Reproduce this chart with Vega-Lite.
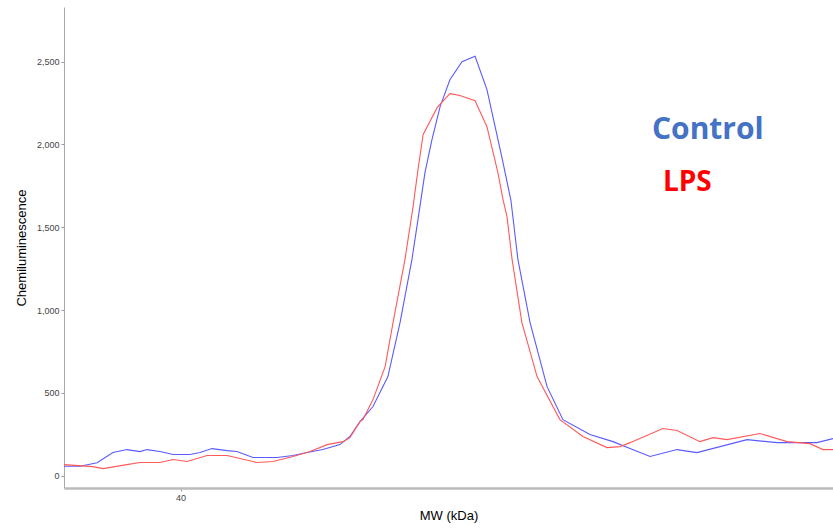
{
  "$schema": "https://vega.github.io/schema/vega-lite/v6.json",
  "autosize": {"type": "none"},
  "padding": {"left": 64, "top": 7, "right": 0, "bottom": 40},
  "width": 769,
  "height": 481,
  "background": "white",
  "config": {"view": {"stroke": null}, "font": "Liberation Sans"},
  "datasets": {
    "curves": [
      {"mw": 35.00, "value": 56, "series": "Control"},
      {"mw": 35.69, "value": 56, "series": "Control"},
      {"mw": 36.42, "value": 78, "series": "Control"},
      {"mw": 37.10, "value": 139, "series": "Control"},
      {"mw": 37.70, "value": 157, "series": "Control"},
      {"mw": 38.26, "value": 145, "series": "Control"},
      {"mw": 38.56, "value": 157, "series": "Control"},
      {"mw": 39.12, "value": 145, "series": "Control"},
      {"mw": 39.68, "value": 127, "series": "Control"},
      {"mw": 40.41, "value": 127, "series": "Control"},
      {"mw": 40.84, "value": 139, "series": "Control"},
      {"mw": 41.35, "value": 163, "series": "Control"},
      {"mw": 42.00, "value": 151, "series": "Control"},
      {"mw": 42.42, "value": 145, "series": "Control"},
      {"mw": 43.11, "value": 109, "series": "Control"},
      {"mw": 44.14, "value": 109, "series": "Control"},
      {"mw": 44.83, "value": 121, "series": "Control"},
      {"mw": 45.43, "value": 139, "series": "Control"},
      {"mw": 46.11, "value": 157, "series": "Control"},
      {"mw": 46.84, "value": 187, "series": "Control"},
      {"mw": 47.27, "value": 236, "series": "Control"},
      {"mw": 47.70, "value": 326, "series": "Control"},
      {"mw": 48.26, "value": 417, "series": "Control"},
      {"mw": 48.90, "value": 598, "series": "Control"},
      {"mw": 49.42, "value": 924, "series": "Control"},
      {"mw": 49.93, "value": 1304, "series": "Control"},
      {"mw": 50.19, "value": 1546, "series": "Control"},
      {"mw": 50.49, "value": 1830, "series": "Control"},
      {"mw": 50.79, "value": 2029, "series": "Control"},
      {"mw": 51.14, "value": 2228, "series": "Control"},
      {"mw": 51.56, "value": 2391, "series": "Control"},
      {"mw": 52.08, "value": 2500, "series": "Control"},
      {"mw": 52.64, "value": 2532, "series": "Control"},
      {"mw": 53.15, "value": 2331, "series": "Control"},
      {"mw": 53.50, "value": 2107, "series": "Control"},
      {"mw": 53.84, "value": 1890, "series": "Control"},
      {"mw": 54.18, "value": 1661, "series": "Control"},
      {"mw": 54.48, "value": 1304, "series": "Control"},
      {"mw": 55.00, "value": 924, "series": "Control"},
      {"mw": 55.73, "value": 537, "series": "Control"},
      {"mw": 56.41, "value": 338, "series": "Control"},
      {"mw": 57.57, "value": 248, "series": "Control"},
      {"mw": 58.56, "value": 205, "series": "Control"},
      {"mw": 59.29, "value": 163, "series": "Control"},
      {"mw": 60.15, "value": 115, "series": "Control"},
      {"mw": 61.31, "value": 157, "series": "Control"},
      {"mw": 62.16, "value": 139, "series": "Control"},
      {"mw": 64.31, "value": 217, "series": "Control"},
      {"mw": 65.60, "value": 199, "series": "Control"},
      {"mw": 67.31, "value": 199, "series": "Control"},
      {"mw": 68.00, "value": 223, "series": "Control"},
      {"mw": 35.00, "value": 66, "series": "LPS"},
      {"mw": 36.24, "value": 54, "series": "LPS"},
      {"mw": 36.67, "value": 42, "series": "LPS"},
      {"mw": 37.70, "value": 66, "series": "LPS"},
      {"mw": 38.26, "value": 79, "series": "LPS"},
      {"mw": 39.12, "value": 79, "series": "LPS"},
      {"mw": 39.68, "value": 97, "series": "LPS"},
      {"mw": 40.28, "value": 85, "series": "LPS"},
      {"mw": 41.14, "value": 121, "series": "LPS"},
      {"mw": 42.00, "value": 121, "series": "LPS"},
      {"mw": 42.55, "value": 103, "series": "LPS"},
      {"mw": 43.28, "value": 79, "series": "LPS"},
      {"mw": 43.97, "value": 85, "series": "LPS"},
      {"mw": 44.83, "value": 115, "series": "LPS"},
      {"mw": 45.56, "value": 145, "series": "LPS"},
      {"mw": 46.29, "value": 187, "series": "LPS"},
      {"mw": 46.97, "value": 205, "series": "LPS"},
      {"mw": 47.27, "value": 229, "series": "LPS"},
      {"mw": 47.70, "value": 326, "series": "LPS"},
      {"mw": 47.83, "value": 338, "series": "LPS"},
      {"mw": 48.26, "value": 459, "series": "LPS"},
      {"mw": 48.78, "value": 658, "series": "LPS"},
      {"mw": 49.12, "value": 924, "series": "LPS"},
      {"mw": 49.63, "value": 1304, "series": "LPS"},
      {"mw": 49.98, "value": 1624, "series": "LPS"},
      {"mw": 50.19, "value": 1848, "series": "LPS"},
      {"mw": 50.41, "value": 2059, "series": "LPS"},
      {"mw": 51.01, "value": 2222, "series": "LPS"},
      {"mw": 51.56, "value": 2307, "series": "LPS"},
      {"mw": 51.99, "value": 2295, "series": "LPS"},
      {"mw": 52.64, "value": 2264, "series": "LPS"},
      {"mw": 53.15, "value": 2107, "series": "LPS"},
      {"mw": 53.62, "value": 1830, "series": "LPS"},
      {"mw": 53.84, "value": 1667, "series": "LPS"},
      {"mw": 54.01, "value": 1564, "series": "LPS"},
      {"mw": 54.23, "value": 1304, "series": "LPS"},
      {"mw": 54.65, "value": 924, "series": "LPS"},
      {"mw": 55.30, "value": 598, "series": "LPS"},
      {"mw": 56.28, "value": 338, "series": "LPS"},
      {"mw": 57.27, "value": 236, "series": "LPS"},
      {"mw": 58.30, "value": 169, "series": "LPS"},
      {"mw": 58.86, "value": 175, "series": "LPS"},
      {"mw": 59.29, "value": 199, "series": "LPS"},
      {"mw": 60.70, "value": 284, "series": "LPS"},
      {"mw": 61.31, "value": 272, "series": "LPS"},
      {"mw": 62.29, "value": 205, "series": "LPS"},
      {"mw": 62.85, "value": 229, "series": "LPS"},
      {"mw": 63.45, "value": 217, "series": "LPS"},
      {"mw": 64.87, "value": 254, "series": "LPS"},
      {"mw": 66.03, "value": 205, "series": "LPS"},
      {"mw": 67.01, "value": 193, "series": "LPS"},
      {"mw": 67.57, "value": 157, "series": "LPS"},
      {"mw": 68.00, "value": 157, "series": "LPS"}
    ]
  },
  "layer": [
    {
      "data": {"name": "curves"},
      "mark": {"type": "line", "strokeWidth": 1.1, "clip": true},
      "encoding": {
        "x": {
          "field": "mw", "type": "quantitative",
          "scale": {"domain": [35, 68], "nice": false, "zero": false},
          "axis": {
            "title": "MW (kDa)", "values": [40], "format": "d", "grid": false,
            "domainColor": "#bbbbbb", "domainWidth": 2.5,
            "tickColor": "#999999", "tickSize": 3,
            "labelFont": "Liberation Sans", "labelFontSize": 9, "labelColor": "#444444", "labelPadding": 2,
            "titleFont": "Liberation Sans", "titleFontSize": 13, "titleFontWeight": "normal", "titleColor": "#000000", "titlePadding": 7
          }
        },
        "y": {
          "field": "value", "type": "quantitative",
          "scale": {"domain": [-75, 2830], "nice": false, "zero": false},
          "axis": {
            "title": "Chemiluminescence", "values": [0, 500, 1000, 1500, 2000, 2500], "format": ",.0f", "grid": false,
            "domainColor": "#aaaaaa", "domainWidth": 1,
            "tickColor": "#999999", "tickSize": 3,
            "labelFont": "Liberation Sans", "labelFontSize": 9, "labelColor": "#444444", "labelPadding": 2,
            "titleFont": "Liberation Sans", "titleFontSize": 13, "titleFontWeight": "normal", "titleColor": "#000000", "titlePadding": 8
          }
        },
        "color": {
          "field": "series", "type": "nominal",
          "scale": {"domain": ["Control", "LPS"], "range": ["#5a5aff", "#ff5a5a"]},
          "legend": null
        },
        "order": {"field": "mw", "type": "quantitative"}
      }
    },
    {
      "data": {"values": [{"mw": 60.23, "value": 2089, "label": "Control"}]},
      "mark": {"type": "text", "align": "left", "baseline": "middle", "font": "Open Sans", "fontWeight": "bold", "fontSize": 30, "color": "#4472C4"},
      "encoding": {
        "x": {"field": "mw", "type": "quantitative"},
        "y": {"field": "value", "type": "quantitative"},
        "text": {"field": "label"}
      }
    },
    {
      "data": {"values": [{"mw": 60.70, "value": 1769, "label": "LPS"}]},
      "mark": {"type": "text", "align": "left", "baseline": "middle", "font": "Open Sans", "fontWeight": "bold", "fontSize": 28, "color": "#FF0000"},
      "encoding": {
        "x": {"field": "mw", "type": "quantitative"},
        "y": {"field": "value", "type": "quantitative"},
        "text": {"field": "label"}
      }
    }
  ]
}
